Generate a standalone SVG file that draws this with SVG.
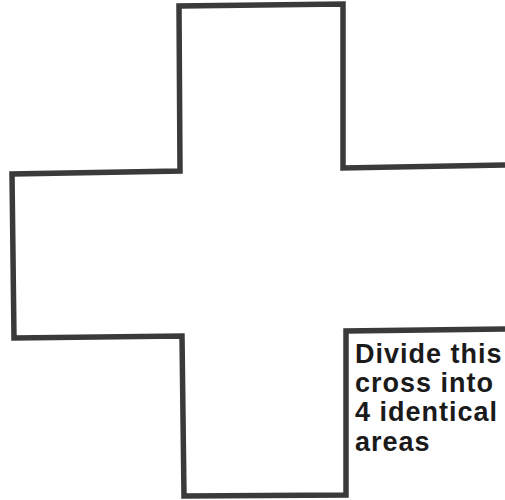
<svg xmlns="http://www.w3.org/2000/svg" width="505" height="500" viewBox="0 0 505 500">
<style>
.outline{fill:none;stroke:#3a3a3a;stroke-width:5.5;stroke-linejoin:miter;stroke-linecap:butt}
.t{font-family:"Liberation Sans",Arial,Helvetica,sans-serif;font-weight:bold;font-size:27px;fill:#1a1a1a;letter-spacing:1px}
</style>
<rect width="505" height="500" fill="#ffffff"/>
<g id="cross">
<path class="outline" d="M505,329 L346,331 L346,495 L184,496 L182,336 L14,338 L12,174 L180,171 L179,6 L343,4 L343,168 L505,165"/>
</g>
<g id="caption">
<text class="t" x="355" y="363">Divide this</text>
<text class="t" x="355" y="392">cross into</text>
<text class="t" x="355" y="421">4 identical</text>
<text class="t" x="355" y="450.5">areas</text>
</g>
</svg>
